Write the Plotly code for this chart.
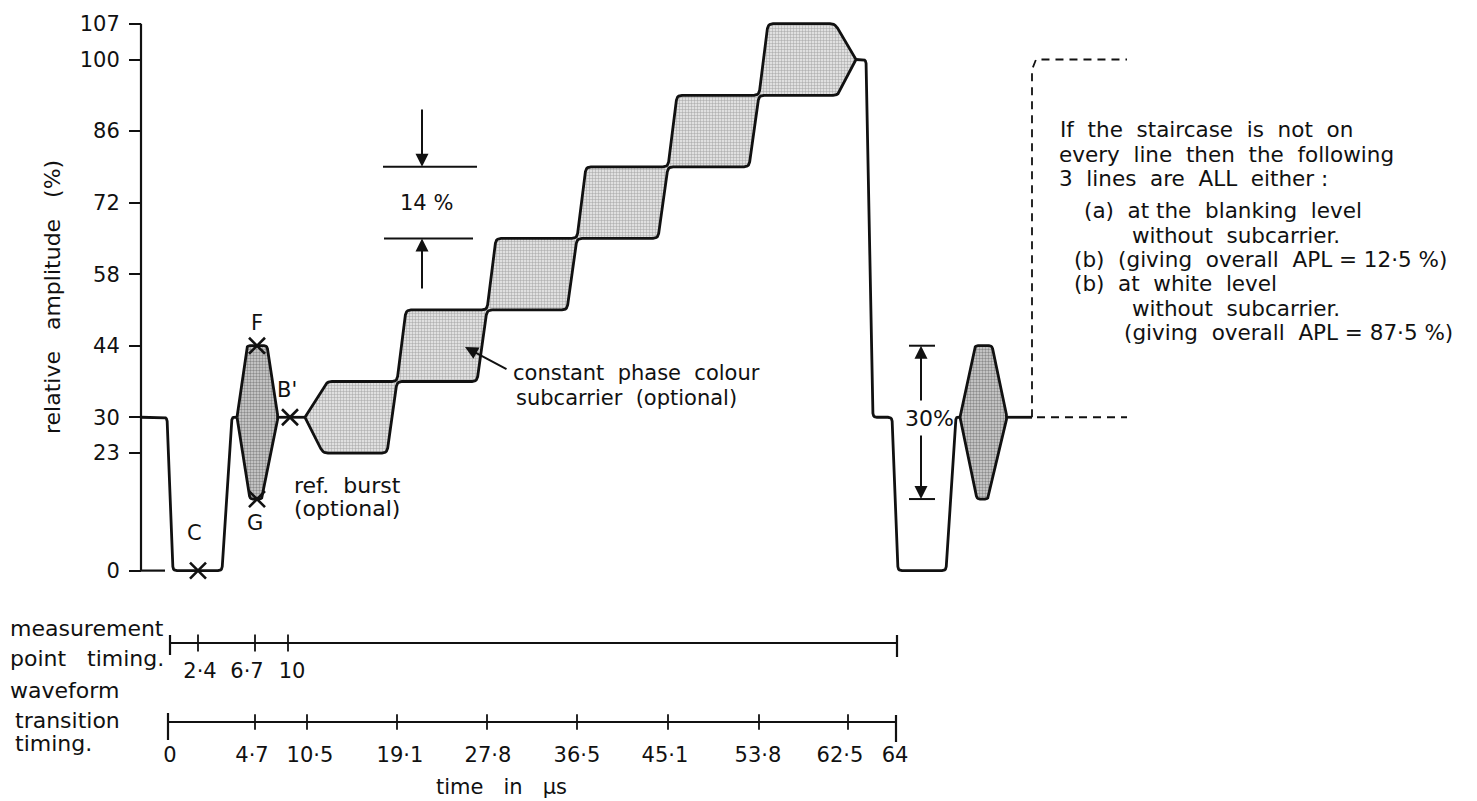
import math
import plotly.graph_objects as go

W, H = 1477, 801
# vertical scale: amplitude (%) -> screen, fitted to the drawing
Y0, K = 570.6, 5.111
Y_RANGE = [(Y0 - H) / K, Y0 / K]
FONT = "DejaVu Sans"


def v(py):
    """screen row -> amplitude units (for non-data furniture)"""
    return (Y0 - py) / K


# ---------------- data ----------------
AMP_TICKS = [0, 23, 30, 44, 58, 72, 86, 100, 107]

# schematic x positions of the waveform-transition instants
TRANS_LABELS = ["0", "4·7", "10·5", "19·1", "27·8", "36·5", "45·1", "53·8", "62·5", "64"]
TRANS_X = [168, 255, 307, 397, 487, 577, 668, 759, 848, 896]
TRANS_LABEL_X = [170, 252, 310, 400, 488, 577, 665, 758, 840, 895]
MEAS_LABELS = ["2·4", "6·7", "10"]
MEAS_X = [198, 255, 288]
MEAS_LABEL_X = [200, 247, 292]

# sync pulse + back porch (line n)
SYNC_X = [141, 167, 173, 222, 232, 237]
SYNC_Y = [30, 30, 0, 0, 30, 30]
# colour burst envelope (F / G)
BURST1_X = [237, 247, 267, 278, 262, 250, 237]
BURST1_Y = [30, 44, 44, 30, 14, 14, 30]
PORCH_X = [278, 305]
PORCH_Y = [30, 30]

# staircase: step centre levels, subcarrier half amplitude, riser instants
STEP_LEVELS = [30, 44, 58, 72, 86, 100]
SUB_HALF = 7
RISER_X = TRANS_X[3:8]

# front porch, sync and burst of line n+1
TAIL_X = [856, 866, 873, 892, 898, 946, 956, 960]
TAIL_Y = [100, 100, 30, 30, 0, 0, 30, 30]
BURST2_X = [960, 975, 992, 1007, 988, 977, 960]
BURST2_Y = [30, 44, 44, 30, 14, 14, 30]
END_X = [1007, 1032]
END_Y = [30, 30]
ALT1_X = [1032, 1032, 1036, 1127]
ALT1_Y = [30, 98, 100, 100]
ALT2_X = [1037, 1127]
ALT2_Y = [30, 30]

# measurement points
PT_NAMES = ["C", "F", "G", "B'"]
PT_X = [198, 257, 257, 290]
PT_Y = [0, 44, 14, 30]

# ---------------- staircase envelope ----------------
top_x = [305, 327]
top_y = [30, STEP_LEVELS[0] + SUB_HALF]
bot_x = [305, 323]
bot_y = [30, STEP_LEVELS[0] - SUB_HALF]
for i, rx in enumerate(RISER_X):
    top_x += [rx, rx + 9]
    top_y += [STEP_LEVELS[i] + SUB_HALF, STEP_LEVELS[i + 1] + SUB_HALF]
    bot_x += [rx - 10, rx]
    bot_y += [STEP_LEVELS[i] - SUB_HALF, STEP_LEVELS[i + 1] - SUB_HALF]
top_x += [835, 856]
top_y += [STEP_LEVELS[-1] + SUB_HALF, STEP_LEVELS[-1]]
bot_x += [838, 856]
bot_y += [STEP_LEVELS[-1] - SUB_HALF, STEP_LEVELS[-1]]
stair_x = top_x + bot_x[::-1]
stair_y = top_y + bot_y[::-1]


def rounded(xs, ys, r=4.0, n=5):
    """soften interior corners of a polyline (drawing-pen look)"""
    P = [(x, y * K) for x, y in zip(xs, ys)]
    out = [P[0]]
    for i in range(1, len(P) - 1):
        a, b, c = P[i - 1], P[i], P[i + 1]
        d1 = math.dist(a, b)
        d2 = math.dist(b, c)
        if d1 == 0 or d2 == 0:
            out.append(b)
            continue
        rr = min(r, d1 / 2, d2 / 2)
        p1 = (b[0] + (a[0] - b[0]) * rr / d1, b[1] + (a[1] - b[1]) * rr / d1)
        p2 = (b[0] + (c[0] - b[0]) * rr / d2, b[1] + (c[1] - b[1]) * rr / d2)
        for k in range(n + 1):
            t = k / n
            out.append(((1 - t) ** 2 * p1[0] + 2 * (1 - t) * t * b[0] + t ** 2 * p2[0],
                        (1 - t) ** 2 * p1[1] + 2 * (1 - t) * t * b[1] + t ** 2 * p2[1]))
    out.append(P[-1])
    return [p[0] for p in out], [p[1] / K for p in out]


fig = go.Figure()
LW = 2.8
BLK = "#111111"


def line(x, y, width=LW, dash=None):
    fig.add_trace(go.Scatter(x=x, y=y, mode="lines", hoverinfo="skip",
                             line=dict(color=BLK, width=width, dash=dash)))


def shaded(x, y, pattern):
    fig.add_trace(go.Scatter(x=x, y=y, mode="lines", fill="toself",
                             fillcolor=pattern["bgcolor"], fillpattern=pattern,
                             line=dict(color=BLK, width=LW), hoverinfo="skip"))


DOTS = dict(shape=".", fgcolor="#444444", bgcolor="#d4d4d4", size=3, solidity=0.5)
GRID = dict(shape="+", fgcolor="#666666", bgcolor="#e0e0e0", size=3, solidity=0.3)

# y-axis spine
line([141, 141, None, 141, 165], [107, 0, None, 0, 0], width=2.2)

# waveform
line(*rounded(SYNC_X, SYNC_Y, r=4))
shaded(*rounded(BURST1_X, BURST1_Y, r=3), DOTS)
line(PORCH_X, PORCH_Y)
shaded(*rounded(stair_x, stair_y, r=5), GRID)
line(*rounded(TAIL_X, TAIL_Y, r=4))
shaded(*rounded(BURST2_X, BURST2_Y, r=3), DOTS)
line(END_X, END_Y)
line(ALT1_X, ALT1_Y, width=1.8, dash="8px,6px")
line(ALT2_X, ALT2_Y, width=1.8, dash="8px,6px")

# measurement point crosses
fig.add_trace(go.Scatter(x=PT_X, y=PT_Y, mode="markers", hoverinfo="skip",
                         marker=dict(symbol="x-thin", size=16,
                                     line=dict(color=BLK, width=2.6))))

# 14 % dimension
line([383, 477, None, 384, 473], [79, 79, None, 65, 65], width=2)
# 30 % dimension
line([909, 935, None, 909, 935], [44, 44, None, 14, 14], width=2)

# timing scales
MEAS_LEVEL = v(643)
TRANS_LEVEL = v(722)
line([170, 897], [MEAS_LEVEL, MEAS_LEVEL], width=1.8)
line([168, 896], [TRANS_LEVEL, TRANS_LEVEL], width=1.8)
line([170, 170, None, 897, 897], [v(635), v(655), None, v(635), v(657)], width=2.2)
line([168, 168, None, 896, 896], [v(713), v(740), None, v(715), v(742)], width=2.2)
fig.add_trace(go.Scatter(x=MEAS_X, y=[MEAS_LEVEL] * len(MEAS_X), mode="markers",
                         hoverinfo="skip",
                         marker=dict(symbol="line-ns", size=12, line=dict(color=BLK, width=1.8))))
fig.add_trace(go.Scatter(x=TRANS_X[1:-1], y=[TRANS_LEVEL] * (len(TRANS_X) - 2), mode="markers",
                         hoverinfo="skip",
                         marker=dict(symbol="line-ns", size=11, line=dict(color=BLK, width=1.8))))
fig.add_trace(go.Scatter(x=MEAS_LABEL_X, y=[v(673)] * len(MEAS_LABEL_X), mode="text",
                         text=MEAS_LABELS, hoverinfo="skip",
                         textfont=dict(family=FONT, size=21, color=BLK)))
fig.add_trace(go.Scatter(x=TRANS_LABEL_X, y=[v(757)] * len(TRANS_LABEL_X), mode="text",
                         text=TRANS_LABELS, hoverinfo="skip",
                         textfont=dict(family=FONT, size=21, color=BLK)))

# ---------------- annotations ----------------
ann = []


def txt(s, x, y, size=21, xanchor="center", angle=0):
    ann.append(dict(text=s, x=x / W, y=1 - y / H, xref="paper", yref="paper",
                    xanchor=xanchor, yanchor="middle", showarrow=False, textangle=angle,
                    font=dict(family=FONT, size=size, color=BLK)))


def arrow(x, y, ax, ay):
    ann.append(dict(text="", x=x, y=y, ax=ax, ay=ay, xref="x", yref="y",
                    axref="x", ayref="y", showarrow=True, arrowhead=2,
                    arrowsize=1.3, arrowwidth=2, arrowcolor=BLK, standoff=0))


txt("relative   amplitude   (%)", 52, 297, size=22, angle=-90)
for name, px, py in zip(PT_NAMES, [195, 257, 255, 287], [533, 323, 523, 390]):
    txt(name, px, py)
txt("ref.  burst", 292, 485, size=22, xanchor="left")
txt("(optional)", 292, 508, size=22, xanchor="left")
txt("14 %", 426, 203)
txt("constant  phase  colour", 511, 373, xanchor="left")
txt("subcarrier  (optional)", 514, 398, xanchor="left")
txt("30%", 929, 418, size=22)

block = [
    ("If  the  staircase  is  not  on", 1058, 130),
    ("every  line  then  the  following", 1057, 154),
    ("3  lines  are  ALL  either :", 1057, 178),
    ("(a)  at the  blanking  level", 1082, 211),
    ("without  subcarrier.", 1130, 235),
    ("(b)  (giving  overall  APL = 12·5 %)", 1072, 259),
    ("(b)  at  white  level", 1072, 283),
    ("without  subcarrier.", 1130, 308),
    ("(giving  overall  APL = 87·5 %)", 1122, 332),
]
for s, px, py in block:
    txt(s, px, py, size=21.5, xanchor="left")

txt("measurement", 8, 628, size=22, xanchor="left")
txt("point   timing.", 8, 658, size=22, xanchor="left")
txt("waveform", 8, 690, size=22, xanchor="left")
txt("transition", 13, 720, size=22, xanchor="left")
txt("timing.", 13, 743, size=22, xanchor="left")
txt("time   in   μs", 502, 787, size=21)

arrow(422, 79, 422, v(108))
arrow(422, 65, 422, v(290))
arrow(921, 44, 921, v(402))
arrow(921, 14, 921, v(434))
arrow(465, v(347), 508, v(370))

fig.update_layout(
    width=W, height=H, margin=dict(l=0, r=0, t=0, b=0),
    paper_bgcolor="white", plot_bgcolor="white", showlegend=False,
    annotations=ann,
    xaxis=dict(range=[0, W], visible=False, fixedrange=True),
    yaxis=dict(range=Y_RANGE, anchor="free", position=141 / W,
               tickvals=AMP_TICKS, ticks="outside", ticklen=12, tickwidth=2,
               tickcolor=BLK, showline=False, showgrid=False, zeroline=False,
               ticklabelstandoff=5,
               tickfont=dict(family=FONT, size=21, color=BLK), fixedrange=True),
)

fig.write_html("out.html")
